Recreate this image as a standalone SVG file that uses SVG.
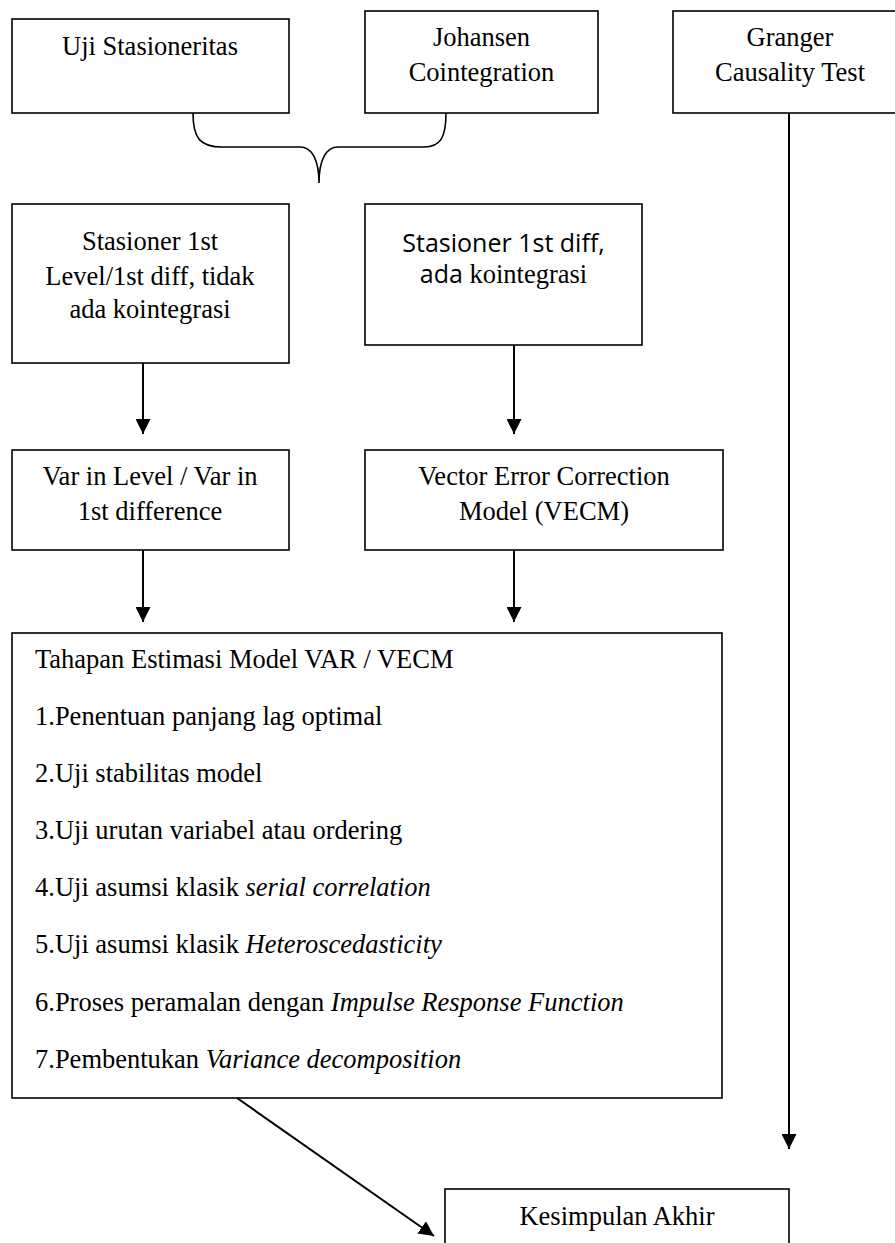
<svg xmlns="http://www.w3.org/2000/svg" width="895" height="1243" viewBox="0 0 895 1243">
<style>
.box{fill:#fff;stroke:#000;stroke-width:1.6}
.t{font-family:'Liberation Serif',serif;font-size:26.5px;fill:#000}
.c{text-anchor:middle}
.s{font-family:'Open Sans',sans-serif;font-size:25px}
.i{font-style:italic}
.ln{fill:none;stroke:#000;stroke-width:2}
.br{fill:none;stroke:#000;stroke-width:1.6}
</style>
<defs>
<marker id="ah" viewBox="0 0 10 10" refX="10" refY="5" markerWidth="7.5" markerHeight="7.5" markerUnits="strokeWidth" orient="auto">
<path d="M0,0 L10,5 L0,10 Z" fill="#000"/>
</marker>
</defs>
<rect width="895" height="1243" fill="#fff"/>
<g id="uji-stasioneritas">
<rect class="box" x="12" y="19" width="277" height="94"/>
<text class="t c" x="150" y="55">Uji Stasioneritas</text>
</g>
<g id="johansen">
<rect class="box" x="365" y="11" width="233" height="102"/>
<text class="t c" x="481.5" y="46">Johansen</text>
<text class="t c" x="481.5" y="81">Cointegration</text>
</g>
<g id="granger">
<rect class="box" x="673" y="11" width="240" height="102"/>
<text class="t c" x="790" y="46">Granger</text>
<text class="t c" x="790" y="81">Causality Test</text>
</g>
<g id="stasioner-level">
<rect class="box" x="12" y="204" width="277" height="159"/>
<text class="t c" x="150" y="250">Stasioner 1st</text>
<text class="t c" x="150" y="285">Level/1st diff, tidak</text>
<text class="t c" x="150" y="318">ada kointegrasi</text>
</g>
<g id="stasioner-diff">
<rect class="box" x="365" y="204" width="277" height="141"/>
<text class="t s c" x="503.5" y="252">Stasioner 1st diff,</text>
<text class="t c" x="503.5" y="283"><tspan class="s">ada</tspan> kointegrasi</text>
</g>
<g id="var-level">
<rect class="box" x="12" y="450" width="277" height="100"/>
<text class="t c" x="150" y="485">Var in Level / Var in</text>
<text class="t c" x="150" y="520">1st difference</text>
</g>
<g id="vecm">
<rect class="box" x="365" y="450" width="358" height="100"/>
<text class="t c" x="544" y="485">Vector Error Correction</text>
<text class="t c" x="544" y="520">Model (VECM)</text>
</g>
<g id="tahapan">
<rect class="box" x="12" y="633" width="710" height="465"/>
<text class="t" x="35" y="668">Tahapan Estimasi Model VAR / VECM</text>
<text class="t" x="35" y="725">1.Penentuan panjang lag optimal</text>
<text class="t" x="35" y="782">2.Uji stabilitas model</text>
<text class="t" x="35" y="839">3.Uji urutan variabel atau ordering</text>
<text class="t" x="35" y="896">4.Uji asumsi klasik <tspan class="i">serial correlation</tspan></text>
<text class="t" x="35" y="953">5.Uji asumsi klasik <tspan class="i">Heteroscedasticity</tspan></text>
<text class="t" x="35" y="1011">6.Proses peramalan dengan <tspan class="i">Impulse Response Function</tspan></text>
<text class="t" x="35" y="1068">7.Pembentukan <tspan class="i">Variance decomposition</tspan></text>
</g>
<g id="kesimpulan">
<rect class="box" x="445" y="1189" width="344" height="70"/>
<text class="t c" x="617" y="1225">Kesimpulan Akhir</text>
</g>
<g id="connectors">
<path class="br" d="M193,113 C193,138 200,147 222,147 L300,147 C312,147 319,160 319,183 C319,160 326,147 338,147 L424,147 C440,147 446,138 446,113"/>
<line class="ln" x1="143" y1="363" x2="143" y2="434" marker-end="url(#ah)"/>
<line class="ln" x1="514" y1="345" x2="514" y2="434" marker-end="url(#ah)"/>
<line class="ln" x1="143" y1="550" x2="143" y2="622" marker-end="url(#ah)"/>
<line class="ln" x1="514" y1="550" x2="514" y2="622" marker-end="url(#ah)"/>
<line class="ln" x1="789" y1="113" x2="789" y2="1149" marker-end="url(#ah)"/>
<line class="ln" x1="237" y1="1098" x2="434" y2="1236" marker-end="url(#ah)"/>
</g>
</svg>
